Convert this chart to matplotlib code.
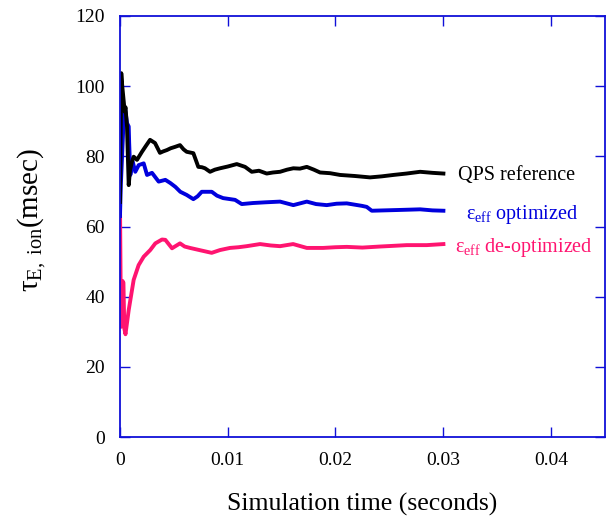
import numpy as np
import matplotlib.pyplot as plt

plt.rcParams['font.family'] = ['Liberation Serif', 'DejaVu Serif']
plt.rcParams['mathtext.fontset'] = 'custom'
plt.rcParams['mathtext.rm'] = 'Liberation Serif'
plt.rcParams['mathtext.it'] = 'Liberation Serif:italic'

# QPS reference (black)
t_qps = [0, 0.00012, 0.00021, 0.00044, 0.00051, 0.00065, 0.00081, 0.00093, 0.00111,
         0.00127, 0.00158, 0.00204, 0.00241, 0.00279, 0.00325, 0.00371, 0.00400,
         0.00436, 0.00470, 0.00511, 0.00557, 0.00590, 0.00619, 0.00681, 0.00727,
         0.00760, 0.00789, 0.00836, 0.00880, 0.00929, 0.01000, 0.01084, 0.01161,
         0.01223, 0.01290, 0.01362, 0.01420, 0.01486, 0.01550, 0.01609, 0.01670,
         0.01734, 0.01800, 0.01857, 0.01950, 0.02043, 0.02180, 0.02321, 0.02430,
         0.02538, 0.02660, 0.02786, 0.02900, 0.03002]
tau_qps = [67, 103.7, 100, 92.7, 94, 88.5, 71.8, 76, 78.5,
           79.9, 79, 81.3, 83, 84.7, 83.8, 81, 81.4,
           81.8, 82.3, 82.7, 83.2, 82, 81.3, 80.9, 77,
           76.9, 76.6, 75.6, 76.2, 76.6, 77.1, 77.8, 77,
           75.6, 75.9, 75.1, 75.4, 75.6, 76.2, 76.6, 76.5,
           77, 76.2, 75.4, 75.2, 74.7, 74.4, 74, 74.3,
           74.7, 75.1, 75.6, 75.3, 75.1]

# eps_eff optimized (blue)
t_opt = [0, 0.00008, 0.00037, 0.00049, 0.00065, 0.00081, 0.00085, 0.00096, 0.00118,
         0.00142, 0.00174, 0.00220, 0.00251, 0.00297, 0.00359, 0.00421, 0.00467,
         0.00514, 0.00560, 0.00619, 0.00681, 0.00720, 0.00759, 0.00852, 0.00900,
         0.00957, 0.01068, 0.01130, 0.01235, 0.01350, 0.01486, 0.01609, 0.01734,
         0.01820, 0.01919, 0.02010, 0.02105, 0.02244, 0.02290, 0.02337, 0.02450,
         0.02569, 0.02680, 0.02786, 0.02900, 0.03002]
tau_opt = [63, 72, 92.7, 93.2, 89.5, 88.5, 84, 74.7, 78.5,
           75.6, 77.5, 78, 74.7, 75.3, 72.8, 73.3, 72.4,
           71.3, 69.9, 69, 67.8, 68.6, 69.9, 69.9, 68.8,
           68.1, 67.6, 66.4, 66.7, 66.9, 67.1, 66.1, 67.1,
           66.4, 66.1, 66.5, 66.6, 65.9, 65.6, 64.5, 64.6,
           64.7, 64.8, 64.9, 64.6, 64.5]

# eps_eff de-optimized (pink)
t_deopt = [0, 0.00009, 0.00023, 0.00032, 0.00040, 0.00051, 0.00081, 0.00127, 0.00173,
           0.00220, 0.00281, 0.00328, 0.00390, 0.00421, 0.00483, 0.00557, 0.00600,
           0.00650, 0.00750, 0.00851, 0.00929, 0.01021, 0.01100, 0.01176, 0.01300,
           0.01400, 0.01486, 0.01607, 0.01734, 0.01885, 0.02000, 0.02105, 0.02250,
           0.02414, 0.02540, 0.02662, 0.02848, 0.03002]
tau_deopt = [66.6, 31.4, 44.5, 44, 31, 29.3, 36.2, 44.8, 49,
             51.4, 53.3, 55.2, 56.3, 56.2, 53.8, 55.2, 54.3,
             53.9, 53.2, 52.5, 53.3, 53.9, 54.1, 54.4, 55,
             54.6, 54.4, 55, 53.9, 53.9, 54.1, 54.2, 54.0,
             54.3, 54.5, 54.7, 54.7, 55]

xticks = [0, 0.01, 0.02, 0.03, 0.04]
xtick_labels = ['0', '0.01', '0.02', '0.03', '0.04']
yticks = [0, 20, 40, 60, 80, 100, 120]

BLUE = '#0000dd'
PINK = '#ff1470'
SPINE = '#1010d8'

fig = plt.figure(figsize=(6.06, 5.16), dpi=100)
ax = fig.add_axes([0.198, 0.153, 0.800, 0.816])

ax.plot(t_deopt, tau_deopt, color=PINK, lw=2.8)
ax.plot(t_opt, tau_opt, color=BLUE, lw=2.8)
ax.plot(t_qps, tau_qps, color='black', lw=2.8)

ax.set_xlim(0, 0.045)
ax.set_ylim(0, 120)
ax.set_xticks(xticks)
ax.set_xticklabels(xtick_labels)
ax.set_yticks(yticks)

for s in ax.spines.values():
    s.set_color(SPINE)
    s.set_linewidth(1.3)
ax.tick_params(direction='in', length=7, width=1, color=SPINE,
               top=True, right=True, labelsize=14, pad=11)

ax.set_xlabel('Simulation time (seconds)', fontsize=18.5, labelpad=17)
ax.set_ylabel(r'$\mathrm{τ}_{\mathrm{E,\ ion}}$(msec)', fontsize=21)
ax.yaxis.set_label_coords(-0.148, 0.515)

ax.text(0.697, 0.620, 'QPS reference', transform=ax.transAxes,
        fontsize=14.5, color='black', va='center')
ax.text(0.713, 0.528, r'$\mathrm{ε}_{\mathrm{eff}}$ optimized', transform=ax.transAxes,
        fontsize=14.5, color=BLUE, va='center')
ax.text(0.691, 0.450, r'$\mathrm{ε}_{\mathrm{eff}}$ de-optimized', transform=ax.transAxes,
        fontsize=14.5, color=PINK, va='center')

fig.savefig('out.png', dpi=100)
